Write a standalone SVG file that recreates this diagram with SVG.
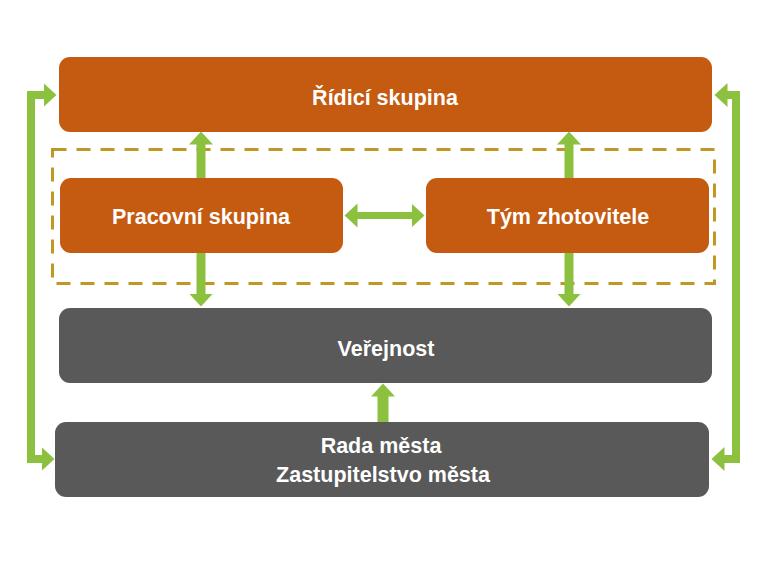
<svg xmlns="http://www.w3.org/2000/svg" width="768" height="572" viewBox="0 0 768 572">
<style>
.orange{fill:#c55a11}
.gray{fill:#595959}
.lbl{fill:#ffffff;font-family:"Liberation Sans",Arial,sans-serif;font-weight:bold;font-size:21.5px;text-anchor:middle}
.conn{fill:none;stroke:#8cc13f;stroke-linejoin:miter}
</style>
<defs>
<marker id="ah" markerUnits="userSpaceOnUse" markerWidth="14" markerHeight="26" viewBox="0 -13 14 26" refX="0.5" refY="0" orient="auto-start-reverse">
<path d="M0,-12 L13,0 L0,12 z" fill="#8cc13f"/>
</marker>
</defs>
<rect x="0" y="0" width="768" height="572" fill="#ffffff"/>
<rect id="dashed-frame" x="52.5" y="149.5" width="662" height="134" fill="none" stroke="#bf9722" stroke-width="3" stroke-dasharray="14 10"/>
<g id="ridici">
<rect class="orange" x="59" y="57" width="653" height="75" rx="11"/>
<text class="lbl" x="385" y="105">Řídicí skupina</text>
</g>
<g id="pracovni">
<rect class="orange" x="60" y="178" width="283" height="75" rx="11"/>
<text class="lbl" x="201" y="224">Pracovní skupina</text>
</g>
<g id="tym">
<rect class="orange" x="426" y="178" width="283" height="75" rx="11"/>
<text class="lbl" x="568" y="224">Tým zhotovitele</text>
</g>
<g id="verejnost">
<rect class="gray" x="59" y="308" width="653" height="75" rx="11"/>
<text class="lbl" x="386" y="356">Veřejnost</text>
</g>
<g id="rada">
<rect class="gray" x="55" y="422" width="654" height="75" rx="11"/>
<text class="lbl" x="381" y="453">Rada města</text>
<text class="lbl" x="383" y="482">Zastupitelstvo města</text>
</g>
<g id="connectors">
<path class="conn" stroke-width="8" d="M44 95 H31 V459 H42" marker-start="url(#ah)" marker-end="url(#ah)"/>
<path class="conn" stroke-width="8" d="M727 95 H736 V459 H724" marker-start="url(#ah)" marker-end="url(#ah)"/>
<path class="conn" stroke-width="9" d="M201 178 V144" marker-end="url(#ah)"/>
<path class="conn" stroke-width="9" d="M569 178 V144" marker-end="url(#ah)"/>
<path class="conn" stroke-width="9" d="M201 253 V294" marker-end="url(#ah)"/>
<path class="conn" stroke-width="9" d="M569 253 V294" marker-end="url(#ah)"/>
<path class="conn" stroke-width="7" d="M357 215.5 H412" marker-start="url(#ah)" marker-end="url(#ah)"/>
<path class="conn" stroke-width="11" d="M383 422 V396" marker-end="url(#ah)"/>
</g>
</svg>
